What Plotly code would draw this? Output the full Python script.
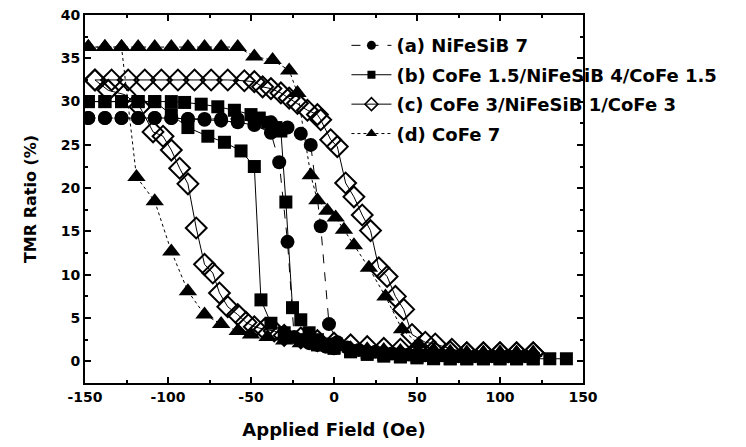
import plotly.graph_objects as go

# ---------------- data ----------------
# (a) NiFeSiB 7 : sweep down branch then sweep up branch
a_x = [120, 110, 100, 90, 80, 70, 60, 50, 40, 30, 20, 10, 0, -5, -10, -15, -20, -24,
       -28, -33, -38, -48, -58, -68, -78, -88, -98, -108, -118, -128, -138, -148,
       -148, -138, -128, -118, -108, -98, -88, -78, -68, -58, -48, -38, -28, -20,
       -14, -8, -3, 2, 8, 15, 25, 35, 45, 55, 65, 75, 85, 95, 105, 115]
a_y = [0.6, 0.6, 0.6, 0.6, 0.6, 0.7, 0.7, 0.8, 0.9, 1.0, 1.1, 1.3, 1.5, 1.7, 1.9, 2.1, 2.4, 2.8,
       13.8, 23.0, 26.4, 27.3, 27.6, 27.8, 27.9, 28.0, 28.1, 28.1, 28.1, 28.1, 28.1, 28.1,
       28.1, 28.1, 28.1, 28.1, 28.1, 28.1, 28.0, 28.0, 28.0, 28.0, 27.9, 27.6, 27.0, 26.3,
       25.0, 15.6, 4.3, 2.2, 1.6, 1.3, 1.1, 0.9, 0.8, 0.7, 0.7, 0.6, 0.6, 0.6, 0.6, 0.6]

# (b) CoFe 1.5/NiFeSiB 4/CoFe 1.5
b_x = [140, 130, 120, 110, 100, 90, 80, 70, 60, 50, 40, 30, 20, 10, 0, -10, -20, -30, -38,
       -44, -48, -56, -66, -76, -88, -98, -108, -118, -128, -138, -148,
       -148, -138, -128, -118, -108, -98, -90, -80, -70, -60, -50, -45, -40, -35, -32,
       -29, -25, -20, -15, -10, -5, 0, 10, 20, 30, 40, 50, 60, 70, 80, 90, 100, 110, 120]
b_y = [0.3, 0.3, 0.3, 0.3, 0.3, 0.3, 0.3, 0.3, 0.4, 0.5, 0.6, 0.8, 1.0, 1.2, 1.5, 1.9, 2.5, 3.3, 4.4,
       7.1, 22.5, 24.3, 25.3, 26.0, 27.0, 28.5, 30.0, 30.0, 30.0, 30.0, 30.0,
       30.0, 30.0, 30.0, 30.0, 30.0, 30.0, 29.9, 29.7, 29.4, 29.0, 28.5, 28.1, 27.6, 27.0, 26.6,
       18.4, 6.2, 4.8, 3.3, 2.5, 2.0, 1.6, 1.1, 0.8, 0.6, 0.5, 0.4, 0.3, 0.3, 0.3, 0.3, 0.3, 0.3, 0.3]

# (c) CoFe 3/NiFeSiB 1/CoFe 3
c_x = [120, 110, 100, 90, 80, 70, 60, 50, 40, 30, 20, 10, 0, -10, -20, -30, -36, -42, -48,
       -53, -58, -64, -69, -73, -78, -83, -88, -93, -98, -103, -109, -117, -126, -136, -144,
       -144, -134, -124, -114, -104, -94, -84, -74, -64, -54, -48, -43, -38, -32, -27, -22,
       -16, -10, -8, -2, 2, 7, 12, 17, 22, 27, 32, 37, 42, 47, 55, 61, 71, 80, 90, 100, 110, 120]
c_y = [1.0, 1.0, 1.0, 1.0, 1.0, 1.1, 1.2, 1.3, 1.4, 1.5, 1.7, 1.9, 2.1, 2.4, 2.7, 3.0, 3.5, 3.7, 4.0,
       4.5, 5.4, 6.3, 7.9, 10.2, 11.2, 15.4, 20.5, 22.3, 24.4, 26.0, 26.5, 29.4, 30.8, 31.3, 32.5,
       32.5, 32.5, 32.5, 32.5, 32.5, 32.5, 32.5, 32.5, 32.5, 32.4, 32.3, 31.7, 31.5, 31.0, 30.4, 29.8,
       29.0, 28.5, 27.9, 25.6, 24.8, 20.6, 19.0, 16.9, 15.1, 10.8, 9.8, 7.5, 6.0, 3.1, 2.2, 2.0, 1.4,
       1.0, 1.0, 1.0, 1.0, 1.0]

# (d) CoFe 7
d_x = [120, 110, 100, 90, 80, 70, 60, 50, 40, 30, 20, 10, 0, -10, -20, -30, -40, -50, -58,
       -68, -78, -88, -98, -108, -119, -128, -138, -148,
       -148, -138, -128, -118, -108, -98, -88, -78, -68, -58, -48, -37, -27, -22, -14, -10,
       -4, 1, 6, 12, 21, 31, 41, 51, 60, 70, 80, 90, 100, 110, 120]
d_y = [1.0, 1.0, 1.0, 1.0, 1.0, 1.0, 1.0, 1.1, 1.2, 1.3, 1.4, 1.5, 1.7, 1.9, 2.1, 2.4, 2.8, 3.1, 3.5,
       4.3, 5.4, 8.1, 12.7, 18.5, 21.3, 36.3, 36.3, 36.3,
       36.3, 36.3, 36.3, 36.3, 36.3, 36.3, 36.3, 36.3, 36.3, 36.3, 35.2, 34.8, 33.6, 31.0, 21.5, 18.6,
       17.4, 16.6, 15.2, 13.4, 10.8, 7.5, 3.7, 2.0, 1.3, 1.1, 1.0, 1.0, 1.0, 1.0, 1.0]

series_names = ["(a) NiFeSiB 7",
                "(b) CoFe 1.5/NiFeSiB 4/CoFe 1.5",
                "(c) CoFe 3/NiFeSiB 1/CoFe 3",
                "(d) CoFe 7"]

x_tick_vals = [-150, -100, -50, 0, 50, 100, 150]
x_tick_labels = ["-150", "-100", "-50", "0", "50", "100", "150"]
y_tick_vals = [0, 5, 10, 15, 20, 25, 30, 35, 40]
y_tick_labels = ["0", "5", "10", "15", "20", "25", "30", "35", "40"]

# ---------------- figure ----------------
FONT = "DejaVu Sans, Liberation Sans, Arial, sans-serif"
styles = [
    dict(symbol="circle", size=14, dash="dash", lw=0, legsize=9),
    dict(symbol="square", size=13, dash="solid", lw=0, legsize=8),
    dict(symbol="diamond-open", size=16, dash="solid", lw=1.5, legsize=10),
    dict(symbol="triangle-up", size=16, dash="dot", lw=0, legsize=10),
]
data = [(a_x, a_y), (b_x, b_y), (c_x, c_y), (d_x, d_y)]

fig = go.Figure()
for i, ((xs, ys), name, st) in enumerate(zip(data, series_names, styles)):
    fig.add_trace(go.Scatter(
        x=xs, y=ys, name=name, mode="lines+markers", showlegend=False,
        line=dict(color="black", width=1, dash=st["dash"]),
        marker=dict(symbol=st["symbol"], size=st["size"], color="black",
                    line=dict(color="black", width=2 if st["lw"] else 0)),
    ))
# legend entries (small symbols as in the original key)
for i, (name, st) in enumerate(zip(series_names, styles)):
    fig.add_trace(go.Scatter(
        x=[None], y=[None], name=name, mode="lines+markers",
        legendgroup=f"g{i}",
        line=dict(color="black", width=1, dash=st["dash"]),
        marker=dict(symbol=st["symbol"], size=st["legsize"], color="black",
                    line=dict(color="black", width=st["lw"])),
    ))

axis_common = dict(
    showline=True, linecolor="black", linewidth=2, mirror="ticks",
    ticks="inside", ticklen=6, tickwidth=1.5, tickcolor="black",
    showgrid=False, zeroline=False, automargin=False,
    tickfont=dict(family=FONT, size=14, color="black", weight="bold"),
)

fig.update_xaxes(
    range=[-150, 150], tickmode="array", tickvals=x_tick_vals, ticktext=x_tick_labels,
    minor=dict(dtick=25, ticks="inside", ticklen=3, tickcolor="black", showgrid=False),
    title=dict(text="Applied Field (Oe)", font=dict(family=FONT, size=18, color="black", weight="bold"), standoff=20),
    **axis_common)
fig.update_yaxes(
    range=[-2.5, 40], tickmode="array", tickvals=y_tick_vals, ticktext=y_tick_labels,
    minor=dict(dtick=2.5, ticks="inside", ticklen=3, tickcolor="black", showgrid=False),
    title=dict(text="TMR Ratio (%)", font=dict(family=FONT, size=16, color="black", weight="bold"), standoff=20),
    **axis_common)

fig.update_layout(
    width=746, height=447,
    margin=dict(l=85, r=163, t=15, b=64),
    paper_bgcolor="white", plot_bgcolor="white",
    showlegend=True,
    legend=dict(x=0.525, y=0.967, xanchor="left", yanchor="top",
                bgcolor="rgba(0,0,0,0)", borderwidth=0,
                font=dict(family=FONT, size=18, color="black", weight="bold"),
                traceorder="grouped", tracegroupgap=3, itemwidth=40),
)

fig.write_html("out.html", config={"displayModeBar": False},
               post_script="document.body.style.margin='0';")
